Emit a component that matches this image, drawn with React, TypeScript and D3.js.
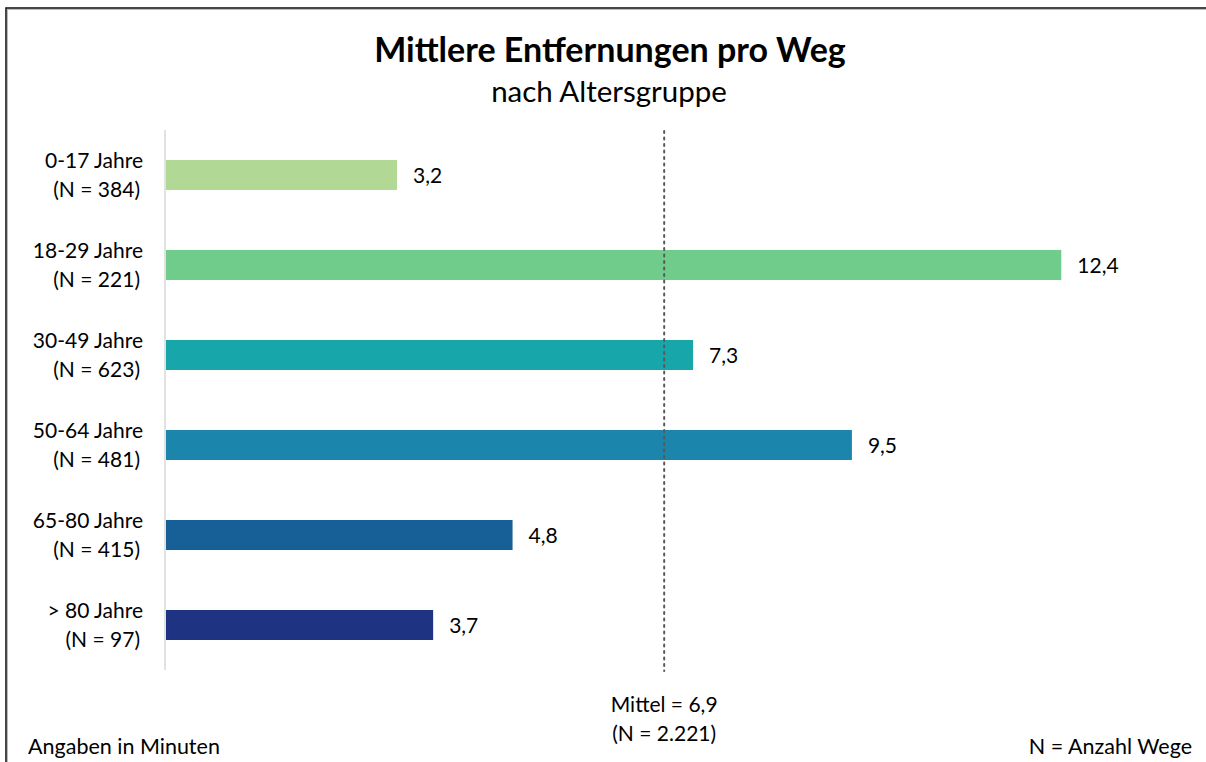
import { useEffect, useRef } from 'react'
import * as d3 from 'd3'

// Altersgruppen und mittlere Entfernung pro Weg
const categories = ['0-17 Jahre', '18-29 Jahre', '30-49 Jahre', '50-64 Jahre', '65-80 Jahre', '> 80 Jahre']
const sampleSizes = ['384', '221', '623', '481', '415', '97']
const values = [3.2, 12.4, 7.3, 9.5, 4.8, 3.7]
const barColors = ['#b1d995', '#6fcc8b', '#17a6a9', '#1b85ab', '#165f97', '#1e3482']
const meanValue = 6.9
const meanN = '2.221'

const W = 1206
const H = 762
const FONT = 'Lato, "Open Sans", sans-serif'

const fmt = (v: number) => v.toFixed(1).replace('.', ',')

export default function App() {
  const ref = useRef<SVGSVGElement | null>(null)

  useEffect(() => {
    const svg = d3.select(ref.current)
    svg.selectAll('*').remove()

    const x = d3.scaleLinear().domain([0, 14]).range([166, 166 + 14 * 72.2])
    const y = d3
      .scaleBand<string>()
      .domain(categories)
      .range([130, 670])
      .paddingInner(2 / 3)
      .paddingOuter(1 / 3)

    svg.append('rect').attr('width', W).attr('height', H).attr('fill', '#fff')

    // outer frame (runs off the right and bottom edge)
    svg
      .append('rect')
      .attr('x', 7.5)
      .attr('y', 9.5)
      .attr('width', W + 100)
      .attr('height', H + 100)
      .attr('fill', 'none')
      .attr('stroke', '#bbb')
      .attr('stroke-width', 1)
    svg
      .append('rect')
      .attr('x', 6)
      .attr('y', 8)
      .attr('width', W + 100)
      .attr('height', H + 100)
      .attr('fill', 'none')
      .attr('stroke', '#1a1a1a')
      .attr('stroke-width', 1.6)

    // title
    svg
      .append('text')
      .attr('x', 610)
      .attr('y', 62)
      .attr('text-anchor', 'middle')
      .attr('font-family', FONT)
      .attr('font-weight', 700)
      .attr('font-size', 34)
      .attr('fill', '#000')
      .text('Mittlere Entfernungen pro Weg')
    svg
      .append('text')
      .attr('x', 609)
      .attr('y', 102)
      .attr('text-anchor', 'middle')
      .attr('font-family', FONT)
      .attr('font-size', 29.5)
      .attr('fill', '#000')
      .text('nach Altersgruppe')

    // bars
    svg
      .append('g')
      .selectAll('rect')
      .data(values)
      .join('rect')
      .attr('x', x(0))
      .attr('y', (_, i) => y(categories[i]) as number)
      .attr('width', (d) => x(d) - x(0))
      .attr('height', y.bandwidth())
      .attr('fill', (_, i) => barColors[i])

    // axis line
    svg
      .append('line')
      .attr('x1', x(0) - 1)
      .attr('x2', x(0) - 1)
      .attr('y1', 130)
      .attr('y2', 670)
      .attr('stroke', '#d9d9d9')
      .attr('stroke-width', 1.5)

    // mean line
    svg
      .append('line')
      .attr('x1', x(meanValue))
      .attr('x2', x(meanValue))
      .attr('y1', 131)
      .attr('y2', 671)
      .attr('stroke', '#595959')
      .attr('stroke-width', 2)
      .attr('stroke-dasharray', '2 4.5')
      .attr('stroke-linecap', 'round')

    // value labels
    svg
      .append('g')
      .selectAll('text')
      .data(values)
      .join('text')
      .attr('x', (d) => x(d) + 16)
      .attr('y', (_, i) => (y(categories[i]) as number) + y.bandwidth() / 2 + 8)
      .attr('font-family', FONT)
      .attr('font-size', 21)
      .attr('fill', '#000')
      .text((d) => fmt(d))

    // category labels
    const cat = svg
      .append('g')
      .selectAll('text')
      .data(categories)
      .join('text')
      .attr('text-anchor', 'end')
      .attr('font-family', FONT)
      .attr('font-size', 21)
      .attr('fill', '#000')
    cat
      .append('tspan')
      .attr('x', 143)
      .attr('y', (d) => (y(d) as number) + y.bandwidth() / 2 - 7)
      .text((d) => d)
    cat
      .append('tspan')
      .attr('x', 140)
      .attr('y', (d) => (y(d) as number) + y.bandwidth() / 2 + 22)
      .text((_, i) => `(N = ${sampleSizes[i]})`)

    // mean label
    svg
      .append('text')
      .attr('x', x(meanValue))
      .attr('y', 712)
      .attr('text-anchor', 'middle')
      .attr('font-family', FONT)
      .attr('font-size', 21)
      .text(`Mittel = ${fmt(meanValue)}`)
    svg
      .append('text')
      .attr('x', x(meanValue))
      .attr('y', 741)
      .attr('text-anchor', 'middle')
      .attr('font-family', FONT)
      .attr('font-size', 21)
      .text(`(N = ${meanN})`)

    // footnotes
    svg
      .append('text')
      .attr('x', 28)
      .attr('y', 754)
      .attr('font-family', FONT)
      .attr('font-size', 21.5)
      .text('Angaben in Minuten')
    svg
      .append('text')
      .attr('x', 1192)
      .attr('y', 754)
      .attr('text-anchor', 'end')
      .attr('font-family', FONT)
      .attr('font-size', 21.5)
      .text('N = Anzahl Wege')
  }, [])

  return (
    <div style={{ position: 'absolute', left: 0, top: 0, width: W, height: H, overflow: 'hidden' }}>
      <svg ref={ref} width={W} height={H} style={{ display: 'block' }} />
    </div>
  )
}
